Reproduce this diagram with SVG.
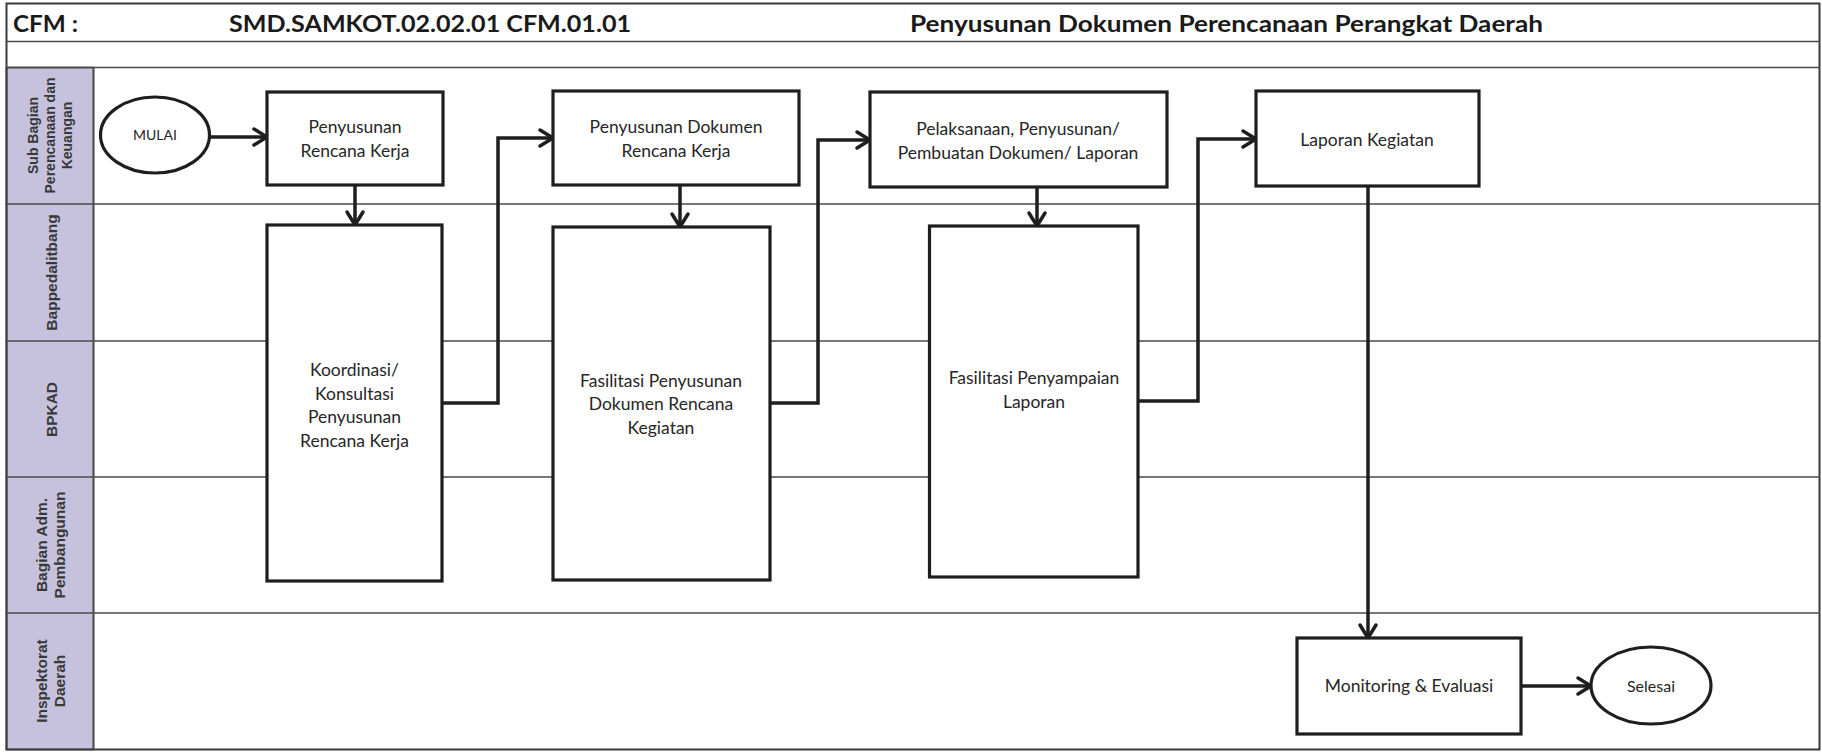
<svg xmlns="http://www.w3.org/2000/svg" width="1822" height="754" viewBox="0 0 1822 754">
<style>
.frame{fill:none;stroke:#3a3a3a;stroke-width:2}
.grid{stroke:#4a4a4a;stroke-width:1.6;fill:none}
.lanecol{fill:#c6c2dd;stroke:#3a3a3a;stroke-width:1.6}
.box{fill:#fff;stroke:#1e1e1e;stroke-width:3.2}
.t{font-family:Lato,"Open Sans",sans-serif;font-size:17.5px;fill:#262626;text-anchor:middle}
.ttl{font-family:Lato,"Liberation Sans",sans-serif;font-weight:bold;font-size:23px;fill:#1a1a1a}
.ll{font-family:"Liberation Sans",Arial,sans-serif;font-weight:bold;font-size:15.5px;fill:#383838;text-anchor:middle;dominant-baseline:central}
.ll1{font-size:14px}
.c{fill:none;stroke:#1e1e1e;stroke-width:3.5;marker-end:url(#arr)}
</style>
<defs>
<marker id="arr" markerUnits="userSpaceOnUse" markerWidth="22" markerHeight="22" refX="16" refY="11" orient="auto" overflow="visible">
<path d="M3,3 L16,11 L3,19" fill="none" stroke="#1e1e1e" stroke-width="3.5" stroke-linejoin="miter" stroke-linecap="round"/>
</marker>
</defs>
<rect x="0" y="0" width="1822" height="754" fill="#fff"/>
<g id="frame">
<rect class="lanecol" x="6.5" y="67.5" width="87" height="682"/>
<rect class="frame" x="6.5" y="3.5" width="1813" height="746"/>
<line class="grid" x1="6.5" y1="41.5" x2="1819.5" y2="41.5"/>
<line class="grid" x1="6.5" y1="67.5" x2="1819.5" y2="67.5"/>
<line class="grid" x1="6.5" y1="204" x2="1819.5" y2="204"/>
<line class="grid" x1="6.5" y1="341" x2="1819.5" y2="341"/>
<line class="grid" x1="6.5" y1="477" x2="1819.5" y2="477"/>
<line class="grid" x1="6.5" y1="613" x2="1819.5" y2="613"/>
<line class="grid" x1="93.5" y1="67.5" x2="93.5" y2="749.5"/>
</g>
<g id="header">
<text class="ttl" x="13" y="32" textLength="65" lengthAdjust="spacingAndGlyphs">CFM :</text>
<text class="ttl" x="229" y="32" textLength="402" lengthAdjust="spacingAndGlyphs">SMD.SAMKOT.02.02.01 CFM.01.01</text>
<text class="ttl" x="910" y="32" textLength="633" lengthAdjust="spacingAndGlyphs">Penyusunan Dokumen Perencanaan Perangkat Daerah</text>
</g>
<g id="lanes">
<g id="lane1"><text class="ll ll1" transform="translate(33,135.5) rotate(-90)">Sub Bagian</text><text class="ll ll1" transform="translate(50,135.5) rotate(-90)">Perencanaan dan</text><text class="ll ll1" transform="translate(67,135.5) rotate(-90)">Keuangan</text></g>
<g id="lane2"><text class="ll" transform="translate(51,272.5) rotate(-90)">Bappedalitbang</text></g>
<g id="lane3"><text class="ll" transform="translate(51,409.5) rotate(-90)">BPKAD</text></g>
<g id="lane4"><text class="ll" transform="translate(41,545) rotate(-90)">Bagian Adm.</text><text class="ll" transform="translate(59,545) rotate(-90)">Pembangunan</text></g>
<g id="lane5"><text class="ll" transform="translate(41,681) rotate(-90)">Inspektorat</text><text class="ll" transform="translate(59,681) rotate(-90)">Daerah</text></g>
</g>
<g id="connectors">
<path class="c" d="M209,137 H267"/>
<path class="c" d="M355,185 V225"/>
<path class="c" d="M442,403 H498 V138 H553"/>
<path class="c" d="M680,185 V227"/>
<path class="c" d="M770,403 H818 V140 H870"/>
<path class="c" d="M1037,187 V226"/>
<path class="c" d="M1138,401 H1198 V139 H1256"/>
<path class="c" d="M1368,186 V638"/>
<path class="c" d="M1521,686 H1591"/>
</g>
<g id="mulai"><ellipse class="box" cx="155" cy="135" rx="54.5" ry="38"/><text class="t" style="font-size:14px" x="155" y="140">MULAI</text></g>
<g id="n1"><rect class="box" x="267" y="92" width="176" height="93"/><text class="t" x="355" y="133">Penyusunan</text><text class="t" x="355" y="157">Rencana Kerja</text></g>
<g id="n2"><rect class="box" x="267" y="225" width="175" height="356"/><text class="t" x="354.5" y="376">Koordinasi/</text><text class="t" x="354.5" y="400">Konsultasi</text><text class="t" x="354.5" y="423">Penyusunan</text><text class="t" x="354.5" y="447">Rencana Kerja</text></g>
<g id="n3"><rect class="box" x="553" y="91" width="246" height="94"/><text class="t" x="676" y="133">Penyusunan Dokumen</text><text class="t" x="676" y="157">Rencana Kerja</text></g>
<g id="n4"><rect class="box" x="553" y="227" width="217" height="353"/><text class="t" x="661" y="387">Fasilitasi Penyusunan</text><text class="t" x="661" y="410">Dokumen Rencana</text><text class="t" x="661" y="434">Kegiatan</text></g>
<g id="n5"><rect class="box" x="870" y="92" width="297" height="95"/><text class="t" x="1018" y="135">Pelaksanaan, Penyusunan/</text><text class="t" x="1018" y="159">Pembuatan Dokumen/ Laporan</text></g>
<g id="n6"><rect class="box" x="929.5" y="226" width="208.5" height="351"/><text class="t" x="1034" y="384">Fasilitasi Penyampaian</text><text class="t" x="1034" y="408">Laporan</text></g>
<g id="n7"><rect class="box" x="1256" y="91" width="223" height="95"/><text class="t" x="1367" y="146">Laporan Kegiatan</text></g>
<g id="n8"><rect class="box" x="1297" y="638" width="224" height="96"/><text class="t" x="1409" y="692">Monitoring &amp; Evaluasi</text></g>
<g id="selesai"><ellipse class="box" cx="1651" cy="685.5" rx="60" ry="38.5"/><text class="t" style="font-size:16px" x="1651" y="692">Selesai</text></g>
</svg>
